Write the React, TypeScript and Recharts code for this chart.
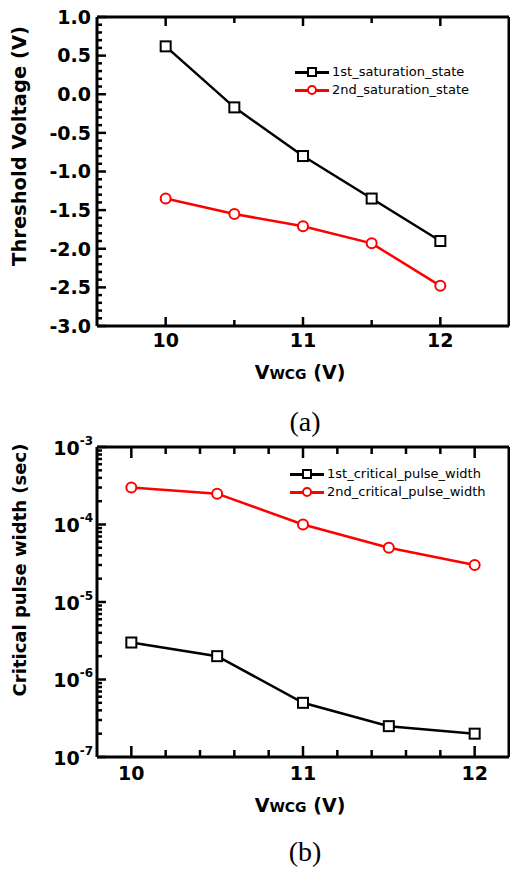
import React from 'react';
import { LineChart, Line, XAxis, YAxis, Legend } from 'recharts';

// V_WCG sweep points (V)
const vwcg = [10, 10.5, 11, 11.5, 12];

// (a) threshold voltage (V)
const vth1st = [0.62, -0.17, -0.8, -1.35, -1.9];
const vth2nd = [-1.35, -1.55, -1.71, -1.93, -2.48];

// (b) critical pulse width (sec)
const pw1st = [3e-6, 2e-6, 5e-7, 2.5e-7, 2e-7];
const pw2nd = [3e-4, 2.5e-4, 1e-4, 5e-5, 3e-5];

// series names
const namesA = ['1st_saturation_state', '2nd_saturation_state'];
const namesB = ['1st_critical_pulse_width', '2nd_critical_pulse_width'];

// axis ticks
const xTicksA = [10, 10.5, 11, 11.5, 12];
const xLabels = [10, 11, 12];
const vthLabels = [1, 0.5, 0, -0.5, -1, -1.5, -2, -2.5, -3];
const pwDecades = [1e-7, 1e-6, 1e-5, 1e-4, 1e-3];
const pwExponents = ['-7', '-6', '-5', '-4', '-3'];

const vthTicks: number[] = [];
for (let i = -30; i <= 10; i++) vthTicks.push(i / 10);
const xTicksB: number[] = [];
for (let i = 50; i <= 60; i++) xTicksB.push(i / 5);
const pwTicks: number[] = [];
pwDecades.slice(0, -1).forEach((d) => {
  for (let m = 1; m < 10; m++) pwTicks.push(d * m);
});
pwTicks.push(1e-3);

const dataA = vwcg.map((v, i) => ({ v, first: vth1st[i], second: vth2nd[i] }));
const dataB = vwcg.map((v, i) => ({ v, first: pw1st[i], second: pw2nd[i] }));

const FONT = '"DejaVu Sans", sans-serif';
const RED = '#ff0000';

const inList = (a: number, list: number[]) => list.some((b) => Math.abs(a - b) < 1e-6);

type Side = 'left' | 'right' | 'top' | 'bottom';

// inward ticks (major/minor) drawn by hand, label optional
const makeTick =
  (side: Side, isMajor: (v: number) => boolean, majorLen: number, minorLen: number, label?: (v: number, x: number, y: number) => React.ReactNode) =>
  (props: any) => {
    const x = Number(props.x);
    const y = Number(props.y);
    const v = Number(props.payload.value);
    const len = isMajor(v) ? majorLen : minorLen;
    const d =
      side === 'left' ? `M${x},${y}h${len}` : side === 'right' ? `M${x},${y}h${-len}` : side === 'top' ? `M${x},${y}v${len}` : `M${x},${y}v${-len}`;
    return (
      <g>
        <path d={d} stroke="#000" strokeWidth={2.5} fill="none" />
        {label ? label(v, x, y) : null}
      </g>
    );
  };

const xLabel = (dy: number) => (v: number, x: number, y: number) =>
  inList(v, xLabels) ? (
    <text x={x} y={y + dy} textAnchor="middle" fontFamily={FONT} fontWeight="bold" fontSize={19} fill="#000">
      {v}
    </text>
  ) : null;

const vthLabel = (v: number, x: number, y: number) =>
  inList(v, vthLabels) ? (
    <text x={x - 6} y={y} dy="0.36em" textAnchor="end" fontFamily={FONT} fontWeight="bold" fontSize={19} fill="#000">
      {v.toFixed(1)}
    </text>
  ) : null;

const pwLabel = (v: number, x: number, y: number) => {
  const idx = pwDecades.findIndex((d) => Math.abs(v / d - 1) < 1e-6);
  if (idx < 0) return null;
  return (
    <text x={x - 4} y={y} dy="0.4em" textAnchor="end" fontFamily={FONT} fontWeight="bold" fontSize={19} fill="#000">
      10
      <tspan dy={-10} fontSize={12}>
        {pwExponents[idx]}
      </tspan>
    </text>
  );
};

const isHalf = (v: number) => Math.abs(v * 2 - Math.round(v * 2)) < 1e-6;
const isInt = (v: number) => Math.abs(v - Math.round(v)) < 1e-6;
const isDecade = (v: number) => Math.abs(Math.log10(v) - Math.round(Math.log10(v))) < 1e-6;

const SquareDot = (props: any) => {
  const { cx, cy, index } = props;
  if (cx == null || cy == null) return <g key={`s-${index}`} />;
  return <rect key={`s-${index}`} x={cx - 5} y={cy - 5} width={10} height={10} fill="#fff" stroke="#000" strokeWidth={2} />;
};

// visible legend as a plain html overlay
const LegendBox = ({ names, left, top }: { names: string[]; left: number; top: number }) => (
  <div style={{ position: 'absolute', left, top, fontFamily: FONT, fontSize: 13, color: '#000', lineHeight: '18px' }}>
    {names.map((name, i) => {
      const color = i === 0 ? '#000' : RED;
      return (
        <div key={name} style={{ display: 'flex', alignItems: 'center', whiteSpace: 'nowrap' }}>
          <div style={{ position: 'relative', width: 34, height: 14, marginRight: 3 }}>
            <div style={{ position: 'absolute', left: 0, top: 6, width: 34, height: 2.5, background: color }} />
            <div
              style={{
                position: 'absolute',
                left: 12,
                top: 2,
                width: 10,
                height: 10,
                boxSizing: 'border-box',
                border: `2px solid ${color}`,
                borderRadius: i === 0 ? 0 : '50%',
                background: '#fff',
              }}
            />
          </div>
          <span>{name}</span>
        </div>
      );
    })}
  </div>
);

// the default recharts legend is kept (hidden) so the chart settles its layout like the working test
const hiddenLegendStyle: React.CSSProperties = { position: 'absolute', left: 295, top: 63, width: 'auto', visibility: 'hidden' };

const axisLine = { stroke: '#000', strokeWidth: 3 };

const rotatedTitle = (text: string, cx: number, cy: number, size: number) => () => (
  <text
    x={cx}
    y={cy}
    transform={`rotate(-90 ${cx} ${cy})`}
    textAnchor="middle"
    dy="0.36em"
    fontFamily={FONT}
    fontWeight="bold"
    fontSize={size}
    fill="#000"
  >
    {text}
  </text>
);

const vwcgTitle = (cx: number, cy: number) => () => (
  <text x={cx} y={cy} textAnchor="middle" dy="0.36em" fontFamily={FONT} fontWeight="bold" fontSize={19} fill="#000">
    V<tspan fontSize={14}>WCG</tspan> (V)
  </text>
);

const captionStyle: React.CSSProperties = {
  position: 'absolute',
  left: 0,
  width: 510,
  textAlign: 'center',
  fontFamily: '"Liberation Serif", serif',
  fontSize: 28,
  lineHeight: '32px',
  paddingLeft: 100,
  boxSizing: 'border-box',
};

export default function App() {
  return (
    <div style={{ position: 'absolute', left: 0, top: 0, width: 510, height: 871, background: '#fff' }}>
      <div style={{ position: 'absolute', left: 0, top: 0 }}>
        <LineChart width={510} height={430} data={dataA} margin={{ top: 16, right: 0, left: 0, bottom: 74 }}>
          <XAxis
            dataKey="v"
            type="number"
            domain={[9.5, 12.5]}
            ticks={xTicksA}
            interval={0}
            height={30}
            axisLine={axisLine}
            tickLine={false}
            tickSize={0}
            tickMargin={0}
            tick={makeTick('bottom', isInt, 9, 6, xLabel(21))}
            label={{ content: vwcgTitle(300, 372) } as any}
          />
          <XAxis
            xAxisId="top"
            orientation="top"
            dataKey="v"
            type="number"
            domain={[9.5, 12.5]}
            ticks={xTicksA}
            interval={0}
            height={1}
            axisLine={axisLine}
            tickLine={false}
            tickSize={0}
            tickMargin={0}
            tick={makeTick('top', isInt, 9, 6)}
          />
          <YAxis
            type="number"
            domain={[-3, 1]}
            ticks={vthTicks}
            interval={0}
            width={97}
            axisLine={axisLine}
            tickLine={false}
            tickSize={0}
            tickMargin={0}
            tick={makeTick('left', isHalf, 9, 5, vthLabel)}
            label={{ content: rotatedTitle('Threshold Voltage (V)', 19, 146, 19.5) } as any}
          />
          <YAxis
            yAxisId="right"
            orientation="right"
            type="number"
            domain={[-3, 1]}
            ticks={vthTicks}
            interval={0}
            width={1}
            axisLine={axisLine}
            tickLine={false}
            tickSize={0}
            tickMargin={0}
            tick={makeTick('right', isHalf, 9, 5)}
          />
          <Legend layout="vertical" align="center" verticalAlign="middle" wrapperStyle={hiddenLegendStyle} />
          <Line dataKey="first" name={namesA[0]} stroke="#000" strokeWidth={2.5} legendType="square" dot={SquareDot} isAnimationActive={false} />
          <Line
            dataKey="second"
            name={namesA[1]}
            stroke={RED}
            strokeWidth={2.5}
            legendType="circle"
            dot={{ r: 5, stroke: RED, strokeWidth: 2, fill: '#fff' }}
            isAnimationActive={false}
          />
        </LineChart>
      </div>
      <LegendBox names={namesA} left={295} top={63} />
      <div style={{ ...captionStyle, top: 406 }}>(a)</div>
      <div style={{ position: 'absolute', left: 0, top: 430 }}>
        <LineChart width={510} height={441} data={dataB} margin={{ top: 16, right: 0, left: 0, bottom: 84 }}>
          <XAxis
            dataKey="v"
            type="number"
            domain={[9.8, 12.2]}
            ticks={xTicksB}
            interval={0}
            height={30}
            axisLine={axisLine}
            tickLine={false}
            tickSize={0}
            tickMargin={0}
            tick={makeTick('bottom', isInt, 11, 7, xLabel(23))}
            label={{ content: vwcgTitle(300, 375) } as any}
          />
          <XAxis
            xAxisId="top"
            orientation="top"
            dataKey="v"
            type="number"
            domain={[9.8, 12.2]}
            ticks={xTicksB}
            interval={0}
            height={1}
            axisLine={axisLine}
            tickLine={false}
            tickSize={0}
            tickMargin={0}
            tick={makeTick('top', isInt, 11, 7)}
          />
          <YAxis
            type="number"
            scale="log"
            domain={[1e-7, 1e-3]}
            ticks={pwTicks}
            interval={0}
            width={97}
            axisLine={axisLine}
            tickLine={false}
            tickSize={0}
            tickMargin={0}
            tick={makeTick('left', isDecade, 9, 5, pwLabel)}
            label={{ content: rotatedTitle('Critical pulse width (sec)', 20, 140, 18) } as any}
          />
          <YAxis
            yAxisId="right"
            orientation="right"
            type="number"
            scale="log"
            domain={[1e-7, 1e-3]}
            ticks={pwTicks}
            interval={0}
            width={1}
            axisLine={axisLine}
            tickLine={false}
            tickSize={0}
            tickMargin={0}
            tick={makeTick('right', isDecade, 9, 5)}
          />
          <Legend layout="vertical" align="center" verticalAlign="middle" wrapperStyle={{ ...hiddenLegendStyle, left: 290, top: 35 }} />
          <Line dataKey="first" name={namesB[0]} stroke="#000" strokeWidth={2.5} legendType="square" dot={SquareDot} isAnimationActive={false} />
          <Line
            dataKey="second"
            name={namesB[1]}
            stroke={RED}
            strokeWidth={2.5}
            legendType="circle"
            dot={{ r: 5, stroke: RED, strokeWidth: 2, fill: '#fff' }}
            isAnimationActive={false}
          />
        </LineChart>
      </div>
      <LegendBox names={namesB} left={290} top={465} />
      <div style={{ ...captionStyle, top: 836 }}>(b)</div>
    </div>
  );
}
